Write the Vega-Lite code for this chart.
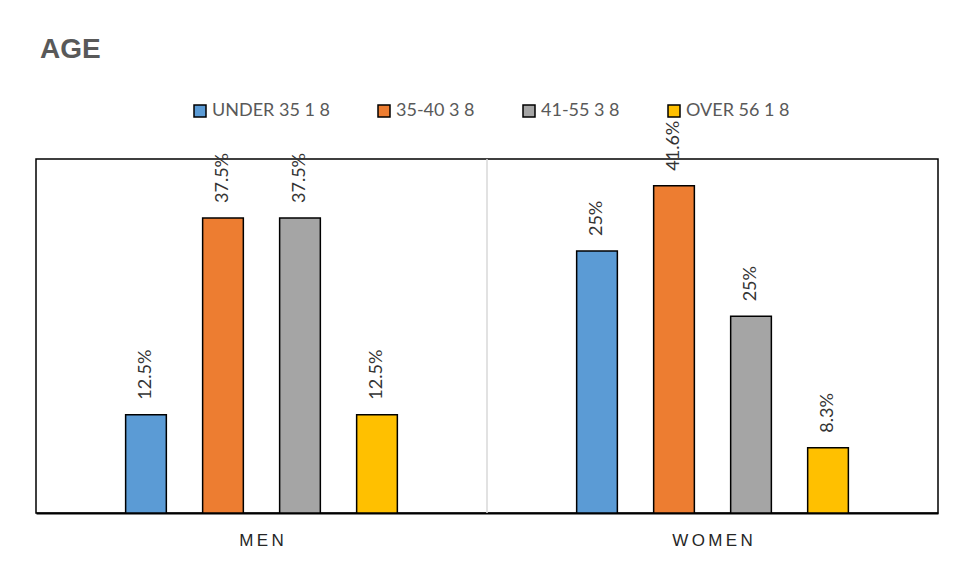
{
  "$schema": "https://vega.github.io/schema/vega-lite/v6.json",
  "width": 902,
  "height": 354,
  "autosize": {"type": "none"},
  "padding": {"left": 36, "top": 159, "right": 17, "bottom": 69},
  "background": "white",
  "title": {
    "text": "AGE",
    "anchor": "start",
    "frame": "group",
    "font": "Liberation Sans",
    "fontSize": 28,
    "fontWeight": "bold",
    "color": "#595959",
    "baseline": "alphabetic",
    "offset": 16,
    "dx": 4
  },
  "config": {
    "view": {"stroke": "#000", "strokeWidth": 1.5},
    "axisX": {
      "title": null,
      "ticks": false,
      "grid": false,
      "domainColor": "#000",
      "domainWidth": 2,
      "labelFont": "Liberation Sans",
      "labelFontSize": 17,
      "labelColor": "#262626",
      "labelPadding": 19,
      "labelAngle": 0
    }
  },
  "data": {
    "values": [
      {"group": "MEN", "age": "UNDER 35 1 8", "value": 12.5, "label": "12.5%"},
      {"group": "MEN", "age": "35-40 3 8", "value": 37.5, "label": "37.5%"},
      {"group": "MEN", "age": "41-55 3 8", "value": 37.5, "label": "37.5%"},
      {"group": "MEN", "age": "OVER 56 1 8", "value": 12.5, "label": "12.5%"},
      {"group": "WOMEN", "age": "UNDER 35 1 8", "value": 33.3, "label": "25%"},
      {"group": "WOMEN", "age": "35-40 3 8", "value": 41.6, "label": "41.6%"},
      {"group": "WOMEN", "age": "41-55 3 8", "value": 25, "label": "25%"},
      {"group": "WOMEN", "age": "OVER 56 1 8", "value": 8.3, "label": "8.3%"}
    ]
  },
  "layer": [
    {
      "data": {"values": [{"group": "WOMEN"}]},
      "mark": {"type": "rule", "color": "#d9d9d9", "strokeWidth": 1.5},
      "encoding": {
        "x": {"field": "group", "type": "nominal", "bandPosition": -0.0297, "scale": {"paddingInner": 0.0561, "paddingOuter": 0.028}}
      }
    },
    {
      "mark": {"type": "bar", "stroke": "#000", "strokeWidth": 1.5, "opacity": 1},
      "encoding": {
        "x": {
          "field": "group",
          "type": "nominal",
          "scale": {"paddingInner": 0.0561, "paddingOuter": 0.028},
          "axis": {"labelExpr": "join(split(datum.label, ''), '\u2009')"}
        },
        "xOffset": {
          "field": "age",
          "type": "nominal",
          "sort": ["UNDER 35 1 8", "35-40 3 8", "41-55 3 8", "OVER 56 1 8"],
          "scale": {"paddingInner": 0.4714, "paddingOuter": 1}
        },
        "y": {"field": "value", "type": "quantitative", "scale": {"domain": [0, 45]}, "axis": null},
        "fill": {
          "field": "age",
          "type": "nominal",
          "sort": ["UNDER 35 1 8", "35-40 3 8", "41-55 3 8", "OVER 56 1 8"],
          "scale": {
            "domain": ["UNDER 35 1 8", "35-40 3 8", "41-55 3 8", "OVER 56 1 8"],
            "range": ["#5B9BD5", "#ED7D31", "#A5A5A5", "#FFC000"]
          },
          "legend": {
            "title": null,
            "orient": "none",
            "legendX": 155,
            "legendY": -57,
            "direction": "horizontal",
            "symbolType": "square",
            "symbolSize": 144,
            "symbolStrokeColor": "#000",
            "symbolStrokeWidth": 1.5,
            "symbolOpacity": 1,
            "labelFont": "Lato",
            "labelFontSize": 18,
            "labelColor": "#595959",
            "labelOffset": 3,
            "columnPadding": 45,
            "labelLimit": 300
          }
        }
      }
    },
    {
      "mark": {
        "type": "text",
        "angle": 270,
        "align": "left",
        "baseline": "middle",
        "dx": 15,
        "font": "Lato",
        "fontSize": 18,
        "color": "#333333"
      },
      "encoding": {
        "x": {"field": "group", "type": "nominal", "scale": {"paddingInner": 0.0561, "paddingOuter": 0.028}},
        "xOffset": {
          "field": "age",
          "type": "nominal",
          "sort": ["UNDER 35 1 8", "35-40 3 8", "41-55 3 8", "OVER 56 1 8"],
          "scale": {"paddingInner": 0.4714, "paddingOuter": 1}
        },
        "y": {"field": "value", "type": "quantitative", "scale": {"domain": [0, 45]}, "axis": null},
        "text": {"field": "label", "type": "nominal"}
      }
    }
  ]
}
